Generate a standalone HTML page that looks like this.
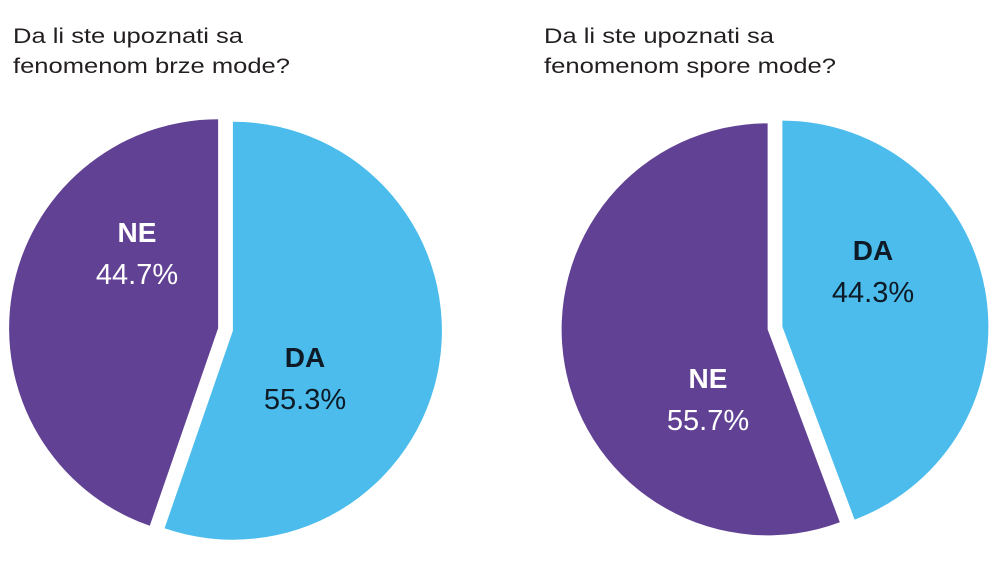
<!DOCTYPE html>
<html><head><meta charset="utf-8"><style>
html,body{margin:0;padding:0;background:#fff;width:1000px;height:566px;overflow:hidden}
svg{display:block}
</style></head><body>
<svg id="chart" width="1000" height="566" viewBox="0 0 1000 566" xmlns="http://www.w3.org/2000/svg" font-family="Liberation Sans, DejaVu Sans, sans-serif">
<text x="13" y="43" font-size="21" fill="#231f20" textLength="230" lengthAdjust="spacingAndGlyphs">Da li ste upoznati sa</text>
<text x="13" y="73" font-size="21" fill="#231f20" textLength="277" lengthAdjust="spacingAndGlyphs">fenomenom brze mode?</text>
<text x="544" y="43" font-size="21" fill="#231f20" textLength="230" lengthAdjust="spacingAndGlyphs">Da li ste upoznati sa</text>
<text x="544" y="73" font-size="21" fill="#231f20" textLength="292" lengthAdjust="spacingAndGlyphs">fenomenom spore mode?</text>
<g id="pies"></g>
</svg>
<script>
const categories = ["DA", "NE"];
const brzeValues = [55.3, 44.7];
const sporeValues = [44.3, 55.7];
const NS = "http://www.w3.org/2000/svg";
const colors = ["#4bbcec", "#614193"];
const labelColors = ["#0e1a26", "#ffffff"];
const pies = [
  {name: "brze", values: brzeValues, cx: 225.5, cy: 329.5, r: 209, labelPos: [[305, 357], [137, 232]]},
  {name: "spore", values: sporeValues, cx: 775, cy: 328, r: 206, labelPos: [[873, 250], [708, 378]]}
];
const gap = 7.5;
const g = document.getElementById("pies");
pies.forEach(p => {
  const total = p.values.reduce((a, b) => a + b, 0);
  let start = 0;
  p.values.forEach((v, i) => {
    const sweep = v / total * 2 * Math.PI;
    const mid = start + sweep / 2;
    const ox = p.cx + gap * Math.sin(mid), oy = p.cy - gap * Math.cos(mid);
    const x1 = ox + p.r * Math.sin(start), y1 = oy - p.r * Math.cos(start);
    const x2 = ox + p.r * Math.sin(start + sweep), y2 = oy - p.r * Math.cos(start + sweep);
    const large = sweep > Math.PI ? 1 : 0;
    const path = document.createElementNS(NS, "path");
    path.setAttribute("d", `M${ox},${oy} L${x1},${y1} A${p.r},${p.r} 0 ${large} 1 ${x2},${y2} Z`);
    path.setAttribute("fill", colors[i]);
    
    
    g.appendChild(path);
    const [lx, ly] = p.labelPos[i];
    const t1 = document.createElementNS(NS, "text");
    t1.setAttribute("x", lx); t1.setAttribute("y", ly + 10);
    t1.setAttribute("text-anchor", "middle"); t1.setAttribute("font-size", "28");
    t1.setAttribute("font-weight", "bold"); t1.setAttribute("fill", labelColors[i]);
    t1.textContent = categories[i];
    
    
    g.appendChild(t1);
    const t2 = document.createElementNS(NS, "text");
    t2.setAttribute("x", lx); t2.setAttribute("y", ly + 52);
    t2.setAttribute("text-anchor", "middle"); t2.setAttribute("font-size", "29");
    t2.setAttribute("fill", labelColors[i]);
    t2.textContent = v.toFixed(1) + "%";
    
    
    g.appendChild(t2);
    start += sweep;
  });
});
</script>
</body></html>
